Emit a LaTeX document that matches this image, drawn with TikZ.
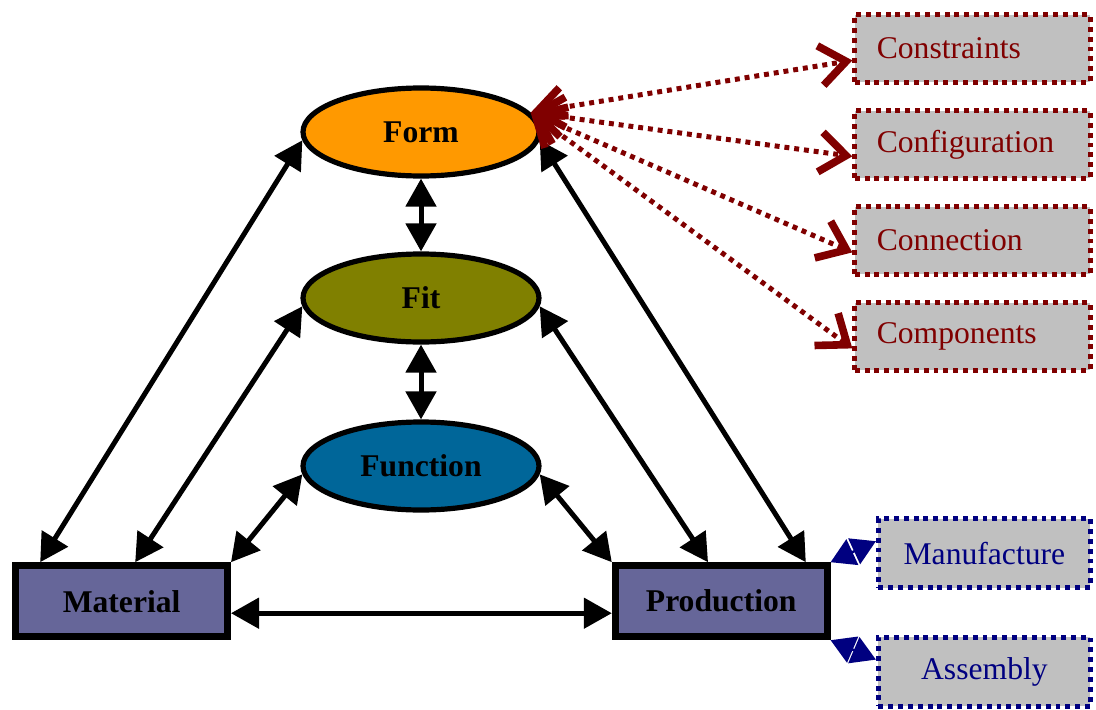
\documentclass[tikz,border=0pt]{standalone}
\usepackage{fontspec}
\setmainfont{Liberation Serif}
\usetikzlibrary{arrows.meta,shapes.geometric}
\definecolor{formorange}{RGB}{255,153,0}
\definecolor{fitolive}{RGB}{128,128,0}
\definecolor{funcblue}{RGB}{0,102,153}
\definecolor{aspectblue}{RGB}{102,102,153}
\definecolor{itemgray}{RGB}{192,192,192}
\definecolor{formred}{RGB}{128,0,0}
\definecolor{prodnavy}{RGB}{0,0,128}
\newcommand\labelsize{\fontsize{22.5}{27}\selectfont}
\begin{document}
\begin{tikzpicture}[
  stage/.style={ellipse, draw=black, line width=1.3mm, minimum width=5.9cm,
    minimum height=2.2cm, inner sep=0pt, font=\labelsize\bfseries},
  aspect/.style={rectangle, draw=black, line width=1.7mm, fill=aspectblue,
    minimum width=5.3cm, minimum height=1.78cm, inner sep=0pt, font=\labelsize\bfseries},
  formitem/.style={rectangle, draw=formred, fill=itemgray, line width=1.25mm,
    dash pattern=on 3.5pt off 3.5pt, text=formred, text width=4.78cm,
    inner xsep=0.55cm, minimum height=1.68cm, align=left, font=\labelsize},
  proditem/.style={rectangle, draw=prodnavy, fill=itemgray, line width=1.25mm,
    dash pattern=on 3.5pt off 3.5pt, text=prodnavy, minimum width=5.3cm,
    minimum height=1.72cm, inner sep=0pt, font=\labelsize},
  link/.style={line width=1.25mm,
    {Triangle[length=7mm,width=7.5mm]}-{Triangle[length=7mm,width=7.5mm]}},
  formlink/.style={draw=formred, line width=1.25mm, dash pattern=on 3.5pt off 3.5pt,
    {Straight Barb[length=6.5mm,width=10mm,line width=1.9mm]}-{Straight Barb[length=6.5mm,width=10mm,line width=1.9mm]}},
  prodlink/.style={draw=prodnavy, fill=prodnavy, line width=0.6mm,
    {Triangle[length=6mm,width=7mm]}-{Triangle[length=6mm,width=7mm]}},
]
  \useasboundingbox (0,0) rectangle (27.4,-17.725);
  % the three stages
  \node[stage, fill=formorange] (form) at (10.525,-3.3) {Form};
  \node[stage, fill=fitolive] (fit) at (10.525,-7.45) {Fit};
  \node[stage, fill=funcblue] (func) at (10.525,-11.65) {Function};
  % material and production
  \node[aspect] (material) at (3.04,-15.03) {Material};
  \node[aspect] (production) at (18.03,-15.03) {Production};
  % form items
  \node[formitem] (cons) at (24.31,-1.21) {Constraints};
  \node[formitem] (conf) at (24.31,-3.61) {Configuration};
  \node[formitem] (conn) at (24.31,-6.01) {Connection};
  \node[formitem] (comp) at (24.31,-8.41) {Components};
  % production items
  \node[proditem] (manu) at (24.61,-13.83) {Manufacture};
  \node[proditem] (assem) at (24.61,-16.79) {Assembly};
  % links between stages
  \draw[link] (form.south) -- (fit.north);
  \draw[link] (fit.south) -- (func.north);
  \draw[link] (form.184) -- ([xshift=0.7cm]material.north west);
  \draw[link] (fit.184) -- ([xshift=0.34cm]material.north);
  \draw[link] (func.184) -- (material.north east);
  \draw[link] (form.-4) -- ([xshift=-0.62cm]production.north east);
  \draw[link] (fit.-4) -- ([xshift=-0.33cm]production.north);
  \draw[link] (func.-4) -- (production.north west);
  \draw[link] ([yshift=-0.3cm]material.east) -- ([yshift=-0.3cm]production.west);
  % form details
  \draw[formlink] (form.10) -- ([yshift=-0.3cm]cons.west);
  \draw[formlink] (form.10) -- ([yshift=-0.3cm]conf.west);
  \draw[formlink] (form.10) -- ([yshift=-0.3cm]conn.west);
  \draw[formlink] (form.10) -- ([yshift=-0.3cm]comp.west);
  % production details
  \draw[prodlink] (production.north east) -- ([yshift=0.3cm]manu.west);
  \draw[prodlink] (production.south east) -- ([yshift=0.3cm]assem.west);
\end{tikzpicture}
\end{document}
